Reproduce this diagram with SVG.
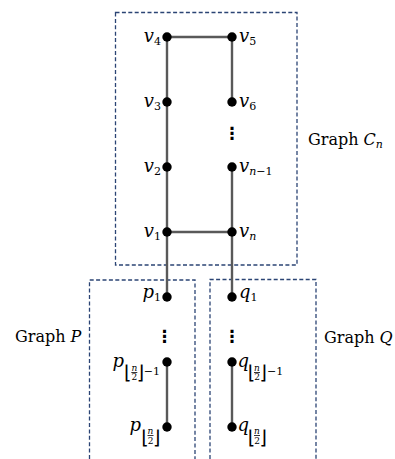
<svg xmlns="http://www.w3.org/2000/svg" width="395" height="459" viewBox="0 0 395 459">
<style>
.box{fill:none;stroke:#2b4474;stroke-width:1.3;stroke-dasharray:4 2.4}
.edge{stroke:#595959;stroke-width:2.4;fill:none}
.node{fill:#000}
.m{font-family:"DejaVu Serif",serif;font-style:italic;font-size:18px;fill:#000}
.s{font-family:"DejaVu Serif",serif;font-style:normal;font-size:11px;fill:#000}
.si{font-family:"DejaVu Serif",serif;font-style:italic;font-size:11px;fill:#000}
.fr{font-family:"DejaVu Serif",serif;font-style:normal;font-size:9px;fill:#000}
.fri{font-family:"DejaVu Serif",serif;font-style:italic;font-size:9px;fill:#000}
.br{font-family:"DejaVu Sans",sans-serif;font-size:19px;fill:#000}
.g{font-family:"DejaVu Serif",serif;font-size:16px;fill:#000}
.dots{font-family:"DejaVu Sans",sans-serif;font-size:17px;font-weight:bold;fill:#000;text-anchor:middle}
.bar{stroke:#000;stroke-width:0.8}
</style>
<g id="boxes">
<rect class="box" x="115.5" y="12.5" width="181.5" height="252.5"/>
<path class="box" d="M89.5,459 V280 H195 V459"/>
<path class="box" d="M210,459 V279.5 H316 V459"/>
</g>
<g id="connectors">
<line class="edge" x1="167" y1="37" x2="232" y2="37"/>
<line class="edge" x1="167" y1="37" x2="167" y2="297"/>
<line class="edge" x1="232" y1="37" x2="232" y2="102"/>
<line class="edge" x1="232" y1="167" x2="232" y2="297"/>
<line class="edge" x1="167" y1="232" x2="232" y2="232"/>
<line class="edge" x1="167" y1="362" x2="167" y2="427"/>
<line class="edge" x1="232" y1="362" x2="232" y2="427"/>
</g>
<g id="labels">
<text class="g" x="308" y="145">Graph <tspan font-style="italic">C</tspan><tspan class="si" dy="3">n</tspan></text>
<text class="g" x="15" y="342">Graph <tspan font-style="italic">P</tspan></text>
<text class="g" x="324" y="342.5">Graph <tspan font-style="italic">Q</tspan></text>
</g>
<g id="v4"><circle class="node" cx="167" cy="37" r="4.7"/><text class="m" x="161" y="41.5" text-anchor="end">v<tspan class="s" dy="3">4</tspan></text></g>
<g id="v5"><circle class="node" cx="232" cy="37" r="4.7"/><text class="m" x="239" y="41.5">v<tspan class="s" dy="3">5</tspan></text></g>
<g id="v3"><circle class="node" cx="167" cy="102" r="4.7"/><text class="m" x="161" y="106.5" text-anchor="end">v<tspan class="s" dy="3">3</tspan></text></g>
<g id="v6"><circle class="node" cx="232" cy="102" r="4.7"/><text class="m" x="239" y="106.5">v<tspan class="s" dy="3">6</tspan></text></g>
<g id="vdots"><text class="dots" x="232" y="139">⋮</text></g>
<g id="v2"><circle class="node" cx="167" cy="167" r="4.7"/><text class="m" x="161" y="171.5" text-anchor="end">v<tspan class="s" dy="3">2</tspan></text></g>
<g id="vn-1"><circle class="node" cx="232" cy="167" r="4.7"/><text class="m" x="239" y="171.5">v<tspan class="si" dy="3">n</tspan><tspan class="s">−1</tspan></text></g>
<g id="v1"><circle class="node" cx="167" cy="232" r="4.7"/><text class="m" x="161" y="236.5" text-anchor="end">v<tspan class="s" dy="3">1</tspan></text></g>
<g id="vn"><circle class="node" cx="232" cy="232" r="4.7"/><text class="m" x="239" y="236.5">v<tspan class="si" dy="3">n</tspan></text></g>
<g id="p1"><circle class="node" cx="167" cy="297" r="4.7"/><text class="m" x="161" y="298" text-anchor="end">p<tspan class="s" dy="3">1</tspan></text></g>
<g id="q1"><circle class="node" cx="232" cy="297" r="4.7"/><text class="m" x="239" y="298">q<tspan class="s" dy="3">1</tspan></text></g>
<g id="pdots"><text class="dots" x="164.5" y="342">⋮</text></g>
<g id="qdots"><text class="dots" x="232" y="342">⋮</text></g>
<g id="pm1"><circle class="node" cx="167" cy="362" r="4.7"/>
<text class="m" x="124" y="367" text-anchor="end">p</text>
<text class="br" x="124.2" y="379">⌊</text>
<text class="fri" x="134.3" y="370.5" text-anchor="middle">n</text>
<line class="bar" x1="131.3" y1="372.5" x2="137.3" y2="372.5"/>
<text class="fr" x="134.3" y="380" text-anchor="middle">2</text>
<text class="br" x="136.8" y="379">⌋</text>
<text class="s" x="143.8" y="375">−1</text></g>
<g id="pm"><circle class="node" cx="167" cy="427" r="4.7"/>
<text class="m" x="141" y="431" text-anchor="end">p</text>
<text class="br" x="141.5" y="443.5">⌊</text>
<text class="fri" x="150.5" y="433.5" text-anchor="middle">n</text>
<line class="bar" x1="147.5" y1="435.5" x2="153.5" y2="435.5"/>
<text class="fr" x="150.5" y="444" text-anchor="middle">2</text>
<text class="br" x="153" y="443.5">⌋</text></g>
<g id="qm1"><circle class="node" cx="232" cy="362" r="4.7"/>
<text class="m" x="237.5" y="367">q</text>
<text class="br" x="248" y="379">⌊</text>
<text class="fri" x="257" y="370.5" text-anchor="middle">n</text>
<line class="bar" x1="254" y1="372.5" x2="260" y2="372.5"/>
<text class="fr" x="257" y="380" text-anchor="middle">2</text>
<text class="br" x="259.5" y="379">⌋</text>
<text class="s" x="267" y="375">−1</text></g>
<g id="qm"><circle class="node" cx="232" cy="427" r="4.7"/>
<text class="m" x="237.5" y="431">q</text>
<text class="br" x="248" y="443.5">⌊</text>
<text class="fri" x="257" y="433.5" text-anchor="middle">n</text>
<line class="bar" x1="254" y1="435.5" x2="260" y2="435.5"/>
<text class="fr" x="257" y="444" text-anchor="middle">2</text>
<text class="br" x="259.5" y="443.5">⌋</text></g>
</svg>
